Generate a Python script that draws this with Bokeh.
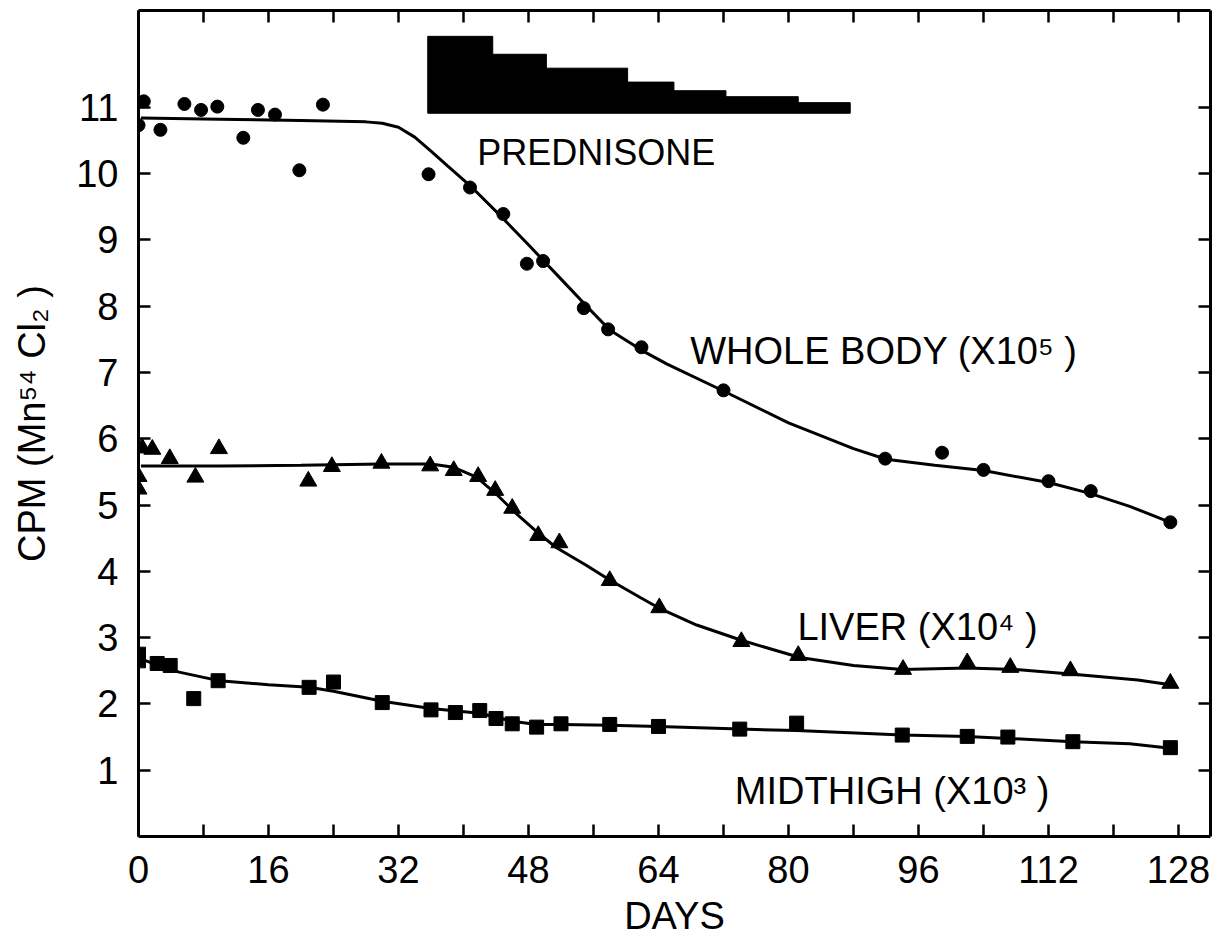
from bokeh.plotting import figure
from bokeh.models import LinearAxis, FixedTicker, Range1d
from bokeh.embed import file_html
from bokeh.resources import INLINE
from bokeh.core.properties import value

FONT = "Liberation Sans"

# ---------------- data ----------------
wb_days = [0, 0.65, 2.7, 5.65, 7.7, 9.7, 12.9, 14.7, 16.8, 19.8, 22.7, 35.7, 40.8,
           44.9, 47.8, 49.8, 54.8, 57.8, 61.9, 72, 91.9, 98.9, 104, 112, 117.2, 127]
wb_vals = [10.73, 11.09, 10.66, 11.05, 10.96, 11.01, 10.54, 10.96, 10.89, 10.05, 11.04,
           9.99, 9.79, 9.39, 8.64, 8.68, 7.97, 7.65, 7.38, 6.73, 5.70, 5.79, 5.53, 5.36,
           5.21, 4.74]

liver_days = [0, 0, 0.45, 1.7, 3.85, 7.0, 9.9, 20.9, 23.8, 29.9, 35.9, 38.8, 41.8, 43.9,
              46.0, 49.2, 51.8, 58, 64.1, 74.2, 81.2, 94.1, 102, 107.3, 114.7, 127]
liver_vals = [5.43, 5.24, 5.86, 5.84, 5.70, 5.42, 5.85, 5.36, 5.58, 5.63, 5.59, 5.52, 5.43,
              5.22, 4.95, 4.54, 4.43, 3.86, 3.45, 2.94, 2.73, 2.52, 2.62, 2.55, 2.50, 2.31]

mid_days = [0, 0, 2.3, 3.9, 6.8, 9.8, 21, 24, 30, 36, 39, 42, 44, 46, 49, 52, 58, 64, 74,
            81, 94, 102, 107, 115, 127]
mid_vals = [2.75, 2.65, 2.61, 2.58, 2.08, 2.35, 2.25, 2.33, 2.02, 1.91, 1.87, 1.90, 1.78,
            1.70, 1.65, 1.70, 1.69, 1.66, 1.62, 1.71, 1.53, 1.51, 1.50, 1.43, 1.34]

# fitted curves (hand-drawn in the original), traced points
wb_curve_days = [0.3, 10, 20, 28, 30, 32, 34, 36, 38, 40.8, 44.5, 48.2, 52.3, 55, 58, 62,
                 65, 72, 80, 88, 92, 98, 104, 112, 117, 122, 127]
wb_curve_vals = [10.84, 10.82, 10.80, 10.78, 10.76, 10.70, 10.55, 10.34, 10.12, 9.82, 9.37,
                 8.90, 8.37, 8.02, 7.64, 7.33, 7.13, 6.72, 6.24, 5.85, 5.69, 5.60, 5.52,
                 5.34, 5.18, 4.98, 4.74]

liver_curve_days = [0.3, 10, 20, 30, 36, 38.8, 41.6, 44, 46.5, 49, 51.4, 55, 58, 61.7, 64,
                    68.7, 74.2, 81.4, 88, 94, 102, 108, 114.7, 123, 127]
liver_curve_vals = [5.59, 5.59, 5.60, 5.62, 5.62, 5.57, 5.42, 5.17, 4.87, 4.60, 4.36, 4.10,
                    3.87, 3.61, 3.45, 3.19, 2.96, 2.70, 2.58, 2.52, 2.54, 2.52, 2.45, 2.36,
                    2.29]

mid_curve_days = [0.3, 2, 5, 8, 10, 16, 21, 24, 30, 36, 42, 46, 49, 52, 58, 64, 74, 81, 94,
                  102, 107, 115, 122, 127]
mid_curve_vals = [2.68, 2.60, 2.48, 2.40, 2.35, 2.29, 2.25, 2.19, 2.04, 1.93, 1.86, 1.74,
                  1.69, 1.69, 1.68, 1.66, 1.62, 1.60, 1.53, 1.51, 1.48, 1.43, 1.40, 1.33]

# prednisone dose steps
pred_edges = [35.6, 43.6, 50.2, 60.2, 65.9, 72.3, 81.2, 87.6]
pred_tops = [12.07, 11.80, 11.59, 11.38, 11.25, 11.16, 11.07]
pred_base = 10.91

x_ticks = [0, 16, 32, 48, 64, 80, 96, 112, 128]
x_minor = [8, 24, 40, 56, 72, 88, 104, 120]
y_ticks = [1, 2, 3, 4, 5, 6, 7, 8, 9, 10, 11]

# ---------------- figure ----------------
p = figure(width=1222, height=943, x_range=Range1d(0, 131.94), y_range=Range1d(0, 12.46),
           output_backend="svg", toolbar_location=None,
           min_border_left=138, min_border_right=12, min_border_top=10,
           min_border_bottom=107)
p.grid.visible = False
p.outline_line_color = None
p.background_fill_color = "white"
p.border_fill_color = "white"


def style_axis(ax, show_labels, xt):
    ax.ticker = FixedTicker(ticks=x_ticks, minor_ticks=x_minor) if xt else \
        FixedTicker(ticks=y_ticks, minor_ticks=[])
    ax.axis_line_width = 3
    ax.axis_line_color = "black"
    ax.major_tick_in = 12
    ax.major_tick_out = 0
    ax.minor_tick_in = 12
    ax.minor_tick_out = 0
    ax.major_tick_line_width = 2.5
    ax.minor_tick_line_width = 2.5
    ax.major_tick_line_color = "black"
    ax.minor_tick_line_color = "black"
    ax.major_label_text_font = FONT
    ax.major_label_text_color = "black"
    if show_labels:
        ax.major_label_text_font_size = "38px"
    else:
        ax.major_label_text_font_size = "0px"
        ax.major_label_standoff = 0
        ax.major_label_overrides = {t: "" for t in (x_ticks if xt else y_ticks)}


xb = p.xaxis[0]
yl = p.yaxis[0]
style_axis(xb, True, True)
style_axis(yl, True, False)
xb.major_label_standoff = 19
yl.major_label_standoff = 20
xb.axis_label = "DAYS"
xb.axis_label_text_font = FONT
xb.axis_label_text_font_size = "38px"
xb.axis_label_text_font_style = "normal"
xb.axis_label_text_color = "black"
xb.axis_label_standoff = 9
yl.axis_label = "CPM (Mn⁵⁴ Cl₂ )"
yl.axis_label_text_font = FONT
yl.axis_label_text_font_size = "38px"
yl.axis_label_text_font_style = "normal"
yl.axis_label_text_color = "black"
yl.axis_label_standoff = 20

xt_ax = LinearAxis()
style_axis(xt_ax, False, True)
p.add_layout(xt_ax, "above")
yr_ax = LinearAxis()
style_axis(yr_ax, False, False)
p.add_layout(yr_ax, "right")

# prednisone bars
p.quad(left=pred_edges[:-1], right=pred_edges[1:], top=pred_tops, bottom=pred_base,
       fill_color="black", line_color="black")

# curves
for cd, cv in ((wb_curve_days, wb_curve_vals), (liver_curve_days, liver_curve_vals),
               (mid_curve_days, mid_curve_vals)):
    p.line(cd, cv, line_color="black", line_width=3)

# points
p.scatter(wb_days, wb_vals, marker="circle", size=13, fill_color="black", line_color="black")
p.scatter(liver_days, liver_vals, marker="triangle", size=17, fill_color="black",
          line_color="black")
p.scatter(mid_days, mid_vals, marker="square", size=14, fill_color="black",
          line_color="black")

# annotations
p.text(x=[41.7], y=[10.32], text=["PREDNISONE"], text_font=value(FONT),
       text_font_size="36px", text_align="left", text_baseline="alphabetic",
       text_color="black")
p.text(x=[67.9, 81.1, 73.4], y=[7.32, 3.16, 0.69],
       text=["WHOLE  BODY (X10⁵ )", "LIVER (X10⁴ )", "MIDTHIGH (X10³ )"],
       text_font=value(FONT), text_font_size="38px", text_align="left",
       text_baseline="alphabetic", text_color="black")

open("out.html", "w").write(file_html(p, INLINE))
